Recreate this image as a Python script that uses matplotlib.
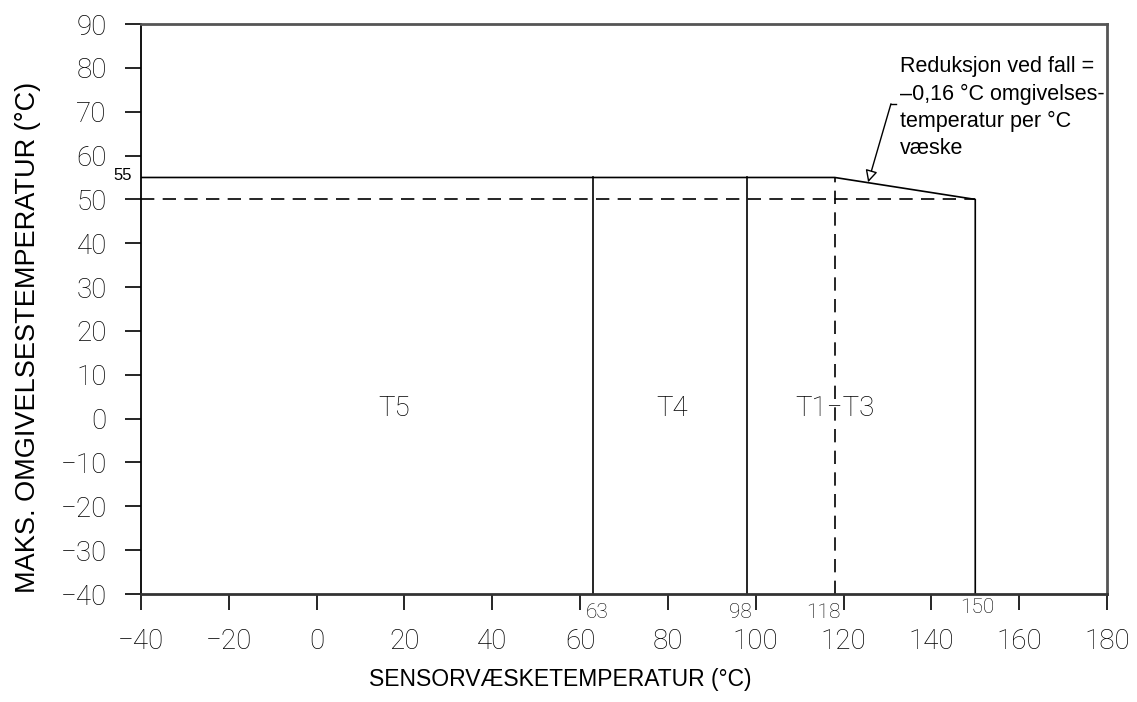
import matplotlib
matplotlib.use("Agg")
import matplotlib.pyplot as plt

# data
x_ticks = [-40, -20, 0, 20, 40, 60, 80, 100, 120, 140, 160, 180]
y_ticks = [-40, -30, -20, -10, 0, 10, 20, 30, 40, 50, 60, 70, 80, 90]
limit_x = [-40, 118, 150, 150]
limit_y = [55, 55, 50, -40]
zone_x = [63, 98]
zone_top = 55
dash_y = 50
dash_x = 118
zone_names = ["T5", "T4", "T1\u2212T3"]
zone_name_x = [17.6, 81, 118]
zone_name_y = 2.2
marks = ["63", "98", "118", "150"]

thin = dict(family=["Roboto", "DejaVu Sans"], fontweight="light")
sans = dict(family=["Liberation Sans", "DejaVu Sans"])

fig = plt.figure(figsize=(11.37, 7.02), dpi=100)
ax = fig.add_axes([0.124, 0.1538, 0.8496, 0.812])
ax.set_xlim(-40, 180)
ax.set_ylim(-40, 90)

# outline of the envelope
ax.plot(limit_x, limit_y, color="black", lw=1.2)
for x in zone_x:
    ax.plot([x, x], [-40, zone_top], color="black", lw=1.2)
ax.plot([-40, 150], [dash_y, dash_y], color="black", lw=1.2, dashes=(8, 5))
ax.plot([dash_x, dash_x], [-40, zone_top], color="black", lw=1.2, dashes=(8, 5))

for name, x in zip(zone_names, zone_name_x):
    ax.text(x, zone_name_y, name, ha="center", va="center", fontsize=20, **thin)

# small value labels
ax.text(-42, 55.4, "55", ha="right", va="center", fontsize=12, clip_on=False, **sans)
ax.text(61.2, -42, marks[0], ha="left", va="top", fontsize=15, clip_on=False, **thin)
ax.text(99.2, -42, marks[1], ha="right", va="top", fontsize=15, clip_on=False, **thin)
ax.text(119.3, -42, marks[2], ha="right", va="top", fontsize=15, clip_on=False, **thin)
ax.text(150.4, -41, marks[3], ha="center", va="top", fontsize=15, clip_on=False, **thin)

# annotation with leader
ax.annotate("", xy=(125.6, 53.9), xytext=(130.8, 71.8),
            arrowprops=dict(arrowstyle="-|>", color="black", lw=1.0,
                            fc="white", mutation_scale=18, shrinkA=0, shrinkB=0))
ax.plot([130.8, 132.0], [71.8, 71.8], color="black", lw=1.0)
ax.text(132.9, 82.6, "Reduksjon ved fall =\n\u20130,16 \u00b0C omgivelses-\ntemperatur per \u00b0C\nv\u00e6ske",
        ha="left", va="top", fontsize=15.5, linespacing=1.38, **sans)

# axes styling
for side in ["top", "right"]:
    ax.spines[side].set_color("#555555")
    ax.spines[side].set_linewidth(2.0)
ax.spines["bottom"].set_color("#333333")
ax.spines["bottom"].set_linewidth(2.0)
ax.spines["left"].set_linewidth(1.3)

ax.set_xticks(x_ticks)
ax.set_yticks(y_ticks)
ax.set_xticklabels(["\u2212" + str(-v) if v < 0 else str(v) for v in x_ticks])
ax.set_yticklabels(["\u2212" + str(-v) if v < 0 else str(v) for v in y_ticks])
ax.tick_params(axis="both", direction="out", length=11.5, width=1.2, labelsize=20)
ax.tick_params(axis="x", pad=13)
ax.tick_params(axis="y", pad=13)
for lab in ax.get_xticklabels() + ax.get_yticklabels():
    lab.set_family(["Roboto", "DejaVu Sans"])
    lab.set_fontweight("light")

ax.set_xlabel("SENSORV\u00c6SKETEMPERATUR (\u00b0C)", fontsize=16.5, **sans)
ax.set_ylabel("MAKS. OMGIVELSESTEMPERATUR (\u00b0C)", fontsize=19.5, **sans)
ax.xaxis.set_label_coords(0.434, -0.13)
ax.yaxis.set_label_coords(-0.104, 0.451)

fig.savefig("out.png", dpi=100)
